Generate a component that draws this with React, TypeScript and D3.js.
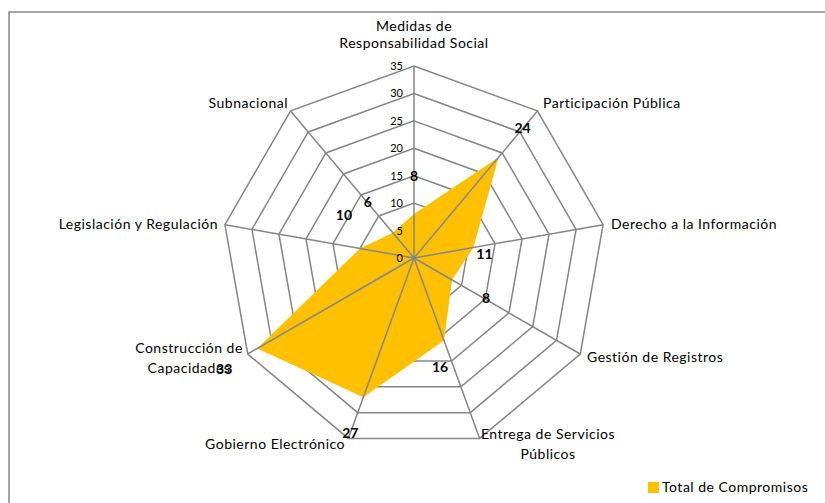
import { useEffect, useRef } from 'react';
import * as d3 from 'd3';

const categories = [
  'Medidas de|Responsabilidad Social',
  'Participación Pública',
  'Derecho a la Información',
  'Gestión de Registros',
  'Entrega de Servicios|Públicos',
  'Gobierno Electrónico',
  'Construcción de|Capacidades',
  'Legislación y Regulación',
  'Subnacional',
];
const totals = [8, 24, 11, 8, 16, 27, 33, 10, 6];
const ticks = [0, 5, 10, 15, 20, 25, 30, 35];
const seriesName = 'Total de Compromisos';

// label placement (styling only)
const labelOffsets = [
  [0, -38], [24, -29], [11, 6], [34, 18], [-4, 27],
  [-13, 36], [-33, 20], [-16, -33], [-25, -31],
];
const catPos = [
  { dx: 0, dy: -227, anchor: 'middle', lh: 17 },
  { dx: 129, dy: -150, anchor: 'start', lh: 20 },
  { dx: 197, dy: -29, anchor: 'start', lh: 20 },
  { dx: 173, dy: 104, anchor: 'start', lh: 20 },
  { dx: 134, dy: 181, anchor: 'middle', lh: 20 },
  { dx: -69, dy: 191, anchor: 'end', lh: 20 },
  { dx: -225, dy: 95, anchor: 'middle', lh: 20 },
  { dx: -196, dy: -29, anchor: 'end', lh: 20 },
  { dx: -126, dy: -150, anchor: 'end', lh: 20 },
];

export default function App() {
  const ref = useRef<SVGSVGElement>(null);

  useEffect(() => {
    const svg = d3.select(ref.current);
    svg.selectAll('*').remove();
    const cx = 414, cy = 258, R = 192;
    const font = 'Lato, "Open Sans", sans-serif';
    const grid = '#868686';

    const r = d3.scaleLinear().domain([0, 35]).range([0, R]);
    const n = categories.length;
    const ang = (i: number) => (i * 2 * Math.PI) / n;
    const pt = (i: number, v: number): [number, number] => [
      cx + r(v) * Math.sin(ang(i)),
      cy - r(v) * Math.cos(ang(i)),
    ];

    svg.append('rect')
      .attr('x', 9).attr('y', 12).attr('width', 830).attr('height', 520)
      .attr('fill', '#fff').attr('stroke', grid).attr('stroke-width', 1.5);

    const g = svg.append('g');

    // rings, then the filled series, then spokes on top
    ticks.slice(1).forEach(t => {
      g.append('path')
        .attr('d', d3.line()(categories.map((_, i) => pt(i, t))) + 'Z')
        .attr('fill', 'none').attr('stroke', grid).attr('stroke-width', 1.5);
    });

    g.append('path')
      .attr('d', d3.line()(totals.map((v, i) => pt(i, v))) + 'Z')
      .attr('fill', '#FFC000');

    categories.forEach((_, i) => {
      const [x, y] = pt(i, 35);
      g.append('line')
        .attr('x1', cx).attr('y1', cy).attr('x2', x).attr('y2', y)
        .attr('stroke', grid).attr('stroke-width', 1.5);
    });

    ticks.forEach(t => {
      g.append('text')
        .attr('x', cx - 11).attr('y', cy - r(t) + 4)
        .attr('text-anchor', 'end')
        .attr('font-family', font).attr('font-size', 11)
        .attr('fill', '#000')
        .text(t);
    });

    categories.forEach((c, i) => {
      const p = catPos[i];
      const lines = c.split('|');
      const t = g.append('text')
        .attr('text-anchor', p.anchor)
        .attr('font-family', font).attr('font-size', 14)
        .attr('letter-spacing', 0.5)
        .attr('fill', '#000');
      lines.forEach((l, k) => {
        t.append('tspan')
          .attr('x', cx + p.dx)
          .attr('y', cy + p.dy + k * p.lh)
          .text(l);
      });
    });

    totals.forEach((v, i) => {
      const [x, y] = pt(i, v);
      g.append('text')
        .attr('x', x + labelOffsets[i][0]).attr('y', y + labelOffsets[i][1] + 5)
        .attr('text-anchor', 'middle')
        .attr('font-family', font).attr('font-size', 14).attr('font-weight', 'bold')
        .attr('fill', '#000')
        .text(v);
    });

    const lg = svg.append('g').attr('transform', 'translate(648,482)');
    lg.append('rect').attr('width', 11).attr('height', 11).attr('fill', '#FFC000');
    lg.append('text')
      .attr('x', 14).attr('y', 10)
      .attr('font-family', font).attr('font-size', 14)
      .attr('letter-spacing', 0.5).attr('fill', '#000')
      .text(seriesName);
  }, []);

  return (
    <svg
      ref={ref}
      width={825}
      height={503}
      style={{ position: 'absolute', left: 0, top: 0 }}
    />
  );
}
